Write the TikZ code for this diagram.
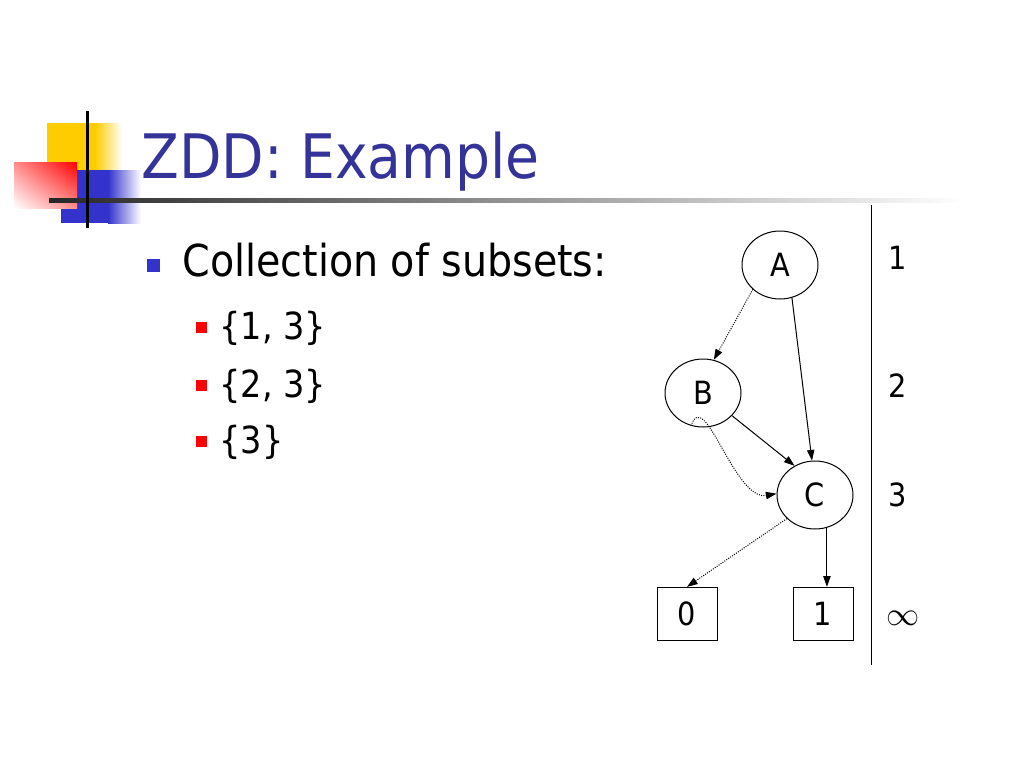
\documentclass[tikz,border=0pt]{standalone}
\usepackage{fontspec}
\setmainfont{DejaVu Sans Condensed}
\usetikzlibrary{shapes.geometric,arrows.meta,shadings}
\definecolor{titleblue}{RGB}{51,51,153}
\definecolor{bulletblue}{RGB}{51,51,204}
\definecolor{decoyellow}{RGB}{255,204,0}
\tikzset{every picture/.style={line width=0.75pt}}
\tikzset{
  zddnode/.style={draw, ellipse, minimum width=57pt, minimum height=51pt, inner sep=0pt, font=\fontsize{24}{28}\selectfont},
  leafbox/.style={draw, rectangle, minimum width=45pt, minimum height=40pt, inner sep=0pt, font=\fontsize{24}{28}\selectfont},
  hiedge/.style={-{Triangle[length=8pt,width=5.5pt]}},
  loedge/.style={densely dotted, -{Triangle[length=8pt,width=5.5pt]}},
  levellabel/.style={font=\fontsize{24}{28}\selectfont},
}
\begin{document}
\begin{tikzpicture}[x=0.75pt,y=0.75pt,yscale=-1,xscale=1]
	\useasboundingbox (0,0) rectangle (1024,768);

	%Shape: Rectangle [yellow]
	\fill [decoyellow] (47,123) rectangle (95,172) ;
	\shade [left color=decoyellow, right color=white] (95,123) rectangle (122,172) ;
	%Shape: Rectangle [blue]
	\fill [bulletblue] (61,170) rectangle (108,223) ;
	\shade [left color=bulletblue, right color=white] (108,170) rectangle (141,223) ;
	%Shape: Rectangle [red]
	\shade [upper right=red, upper left=red!45, lower right=red!45, lower left=white] (14,162) rectangle (77,208) ;
	%Straight Lines [title rule]
	\shade [left color=black!85, right color=white] (49,198.5) rectangle (965,202.5) ;
	%Straight Lines [vertical bar]
	\draw [line width=2.25] (87,111) -- (87,228) ;

	% Text Node
	\node [anchor=base west, inner sep=0pt, text=titleblue, font=\fontsize{46}{55}\selectfont] (title) at (141,178) {ZDD: Example};

	%Shape: Square [bullets]
	\fill [bulletblue] (147,259) rectangle (160,272) ;
	\fill [red] (196,322) rectangle (207,333) ;
	\fill [red] (196,380) rectangle (207,391) ;
	\fill [red] (196,436) rectangle (207,447) ;
	% Text Node
	\node [anchor=base west, inner sep=0pt, font=\fontsize{33}{38}\selectfont] (coll) at (182,276) {Collection of subsets:};
	% Text Node
	\node [anchor=base west, inner sep=0pt, font=\fontsize{28}{33}\selectfont] (s13) at (219,339) {\{1, 3\}};
	% Text Node
	\node [anchor=base west, inner sep=0pt, font=\fontsize{28}{33}\selectfont] (s23) at (219,397) {\{2, 3\}};
	% Text Node
	\node [anchor=base west, inner sep=0pt, font=\fontsize{28}{33}\selectfont] (s3) at (219,453) {\{3\}};

	% Nodes
	\node [zddnode] (A) at (780,265) {A};
	\node [zddnode] (B) at (703,393) {B};
	\node [zddnode] (C) at (815,495) {C};
	\node [leafbox] (zero) at (687,614) {0};
	\node [leafbox] (one) at (823,614) {1};

	% Edges
	\draw [loedge] (A.south west) -- (B.72) ;
	\draw [hiedge] (A.-70) -- (C.95) ;
	\draw [hiedge] (B.-38) -- (C.125) ;
	\draw [loedge] (B.-110) to [out=-72,in=170] (C.178) ;
	\draw [loedge] (C.-140) -- (zero.north) ;
	\draw [hiedge] (C.-70) -- (C.-70 |- one.north) ;

	%Straight Lines [level bar]
	\coordinate (bartop) at (871,205);
	\coordinate (barbot) at (871,665);
	\draw (bartop) -- (barbot) ;

	% Text Node
	\node [levellabel] (lev1) at (898,258) {1};
	% Text Node
	\node [levellabel] (lev2) at (898,386) {2};
	% Text Node
	\node [levellabel] (lev3) at (898,495) {3};
	% Text Node
	\node [levellabel] (levinf) at (903,618) {$\infty$};

\end{tikzpicture}
\end{document}
